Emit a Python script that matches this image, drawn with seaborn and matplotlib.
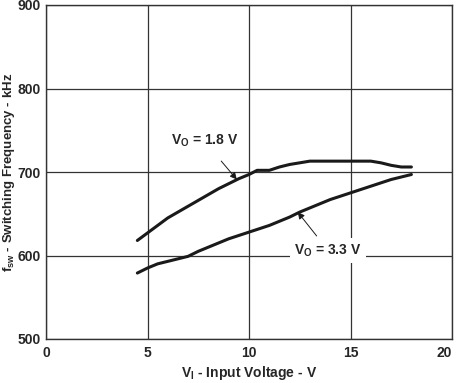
import numpy as np
import pandas as pd
import matplotlib
matplotlib.use('Agg')
import matplotlib.pyplot as plt
import seaborn as sns

# Данные
vin_18 = [4.5, 5.0, 5.5, 6.0, 6.5, 7.0, 7.5, 8.0, 8.5, 9.0, 9.5, 10.0, 10.4, 11.0, 11.5, 12.0, 12.5, 13.0, 14.0, 15.0, 16.0, 16.5, 17.0, 17.5, 18.0]
fsw_18 = [618, 627, 636, 645, 652, 659, 666, 673, 680, 686, 692, 697, 702, 702, 706, 709, 711, 713, 713, 713, 713, 711, 708, 706, 706]
vin_33 = [4.5, 5.0, 5.5, 6.0, 6.5, 7.0, 7.5, 8.0, 8.5, 9.0, 9.5, 10.0, 10.5, 11.0, 11.5, 12.0, 12.5, 13.0, 13.5, 14.0, 14.5, 15.0, 15.5, 16.0, 16.5, 17.0, 17.5, 18.0]
fsw_33 = [579, 585, 590, 593, 596, 599, 605, 610, 615, 620, 624, 628, 632, 636, 641, 646, 652, 657, 662, 667, 671, 675, 679, 683, 687, 691, 694, 697]

df = pd.concat([
    pd.DataFrame({'vin': vin_18, 'fsw': fsw_18, 'vo': '1.8 V'}),
    pd.DataFrame({'vin': vin_33, 'fsw': fsw_33, 'vo': '3.3 V'}),
])

sns.set_style('white')
plt.rcParams['font.family'] = ['Liberation Sans', 'DejaVu Sans']
plt.rcParams['font.weight'] = 'bold'

fig = plt.figure(figsize=(4.58, 3.83), dpi=100)
# оси: слева 46 px, справа 452 px, сверху 5 px, снизу 339 px
ax = fig.add_axes([46 / 458, 1 - 339 / 383, 406 / 458, 334 / 383])

sns.lineplot(data=df, x='vin', y='fsw', units='vo', estimator=None,
             color='#1a1a1a', linewidth=2.2, legend=False, ax=ax, zorder=3)

ax.set_xlim(0, 20)
ax.set_ylim(500, 900)
ax.set_xticks([0, 5, 10, 15, 20])
ax.set_yticks([500, 600, 700, 800, 900])
ax.grid(True, color='#333333', linewidth=0.9)
for s in ax.spines.values():
    s.set_color('#333333')
    s.set_linewidth(1.0)
ax.tick_params(axis='x', length=0, labelsize=10, pad=5)
ax.tick_params(axis='y', length=0, labelsize=10, pad=4)
for lbl in ax.get_xticklabels() + ax.get_yticklabels():
    lbl.set_fontweight('bold')
ax.get_xticklabels()[-1].set_horizontalalignment('right')

ax.set_xlabel(r'V$_\mathregular{I}$ - Input Voltage - V', fontsize=10, fontweight='bold')
ax.set_ylabel(r'f$_\mathregular{sw}$ - Switching Frequency - kHz', fontsize=9.5, fontweight='bold')
ax.xaxis.set_label_coords(0.5, -0.075)
ax.yaxis.set_label_coords(-29 / 406, 0.5)

ax.annotate(r'V$_\mathregular{O}$ = 1.8 V', xy=(9.4, 691), xytext=(7.8, 737),
            ha='center', va='center', fontsize=10, fontweight='bold',
            arrowprops=dict(arrowstyle='-|>', color='#1a1a1a', lw=0.7,
                            shrinkA=8, shrinkB=0, mutation_scale=10))
ax.annotate(r'V$_\mathregular{O}$ = 3.3 V', xy=(12.4, 652), xytext=(13.9, 606),
            ha='center', va='center', fontsize=10, fontweight='bold',
            bbox=dict(boxstyle='square,pad=0.3', fc='white', ec='none'),
            arrowprops=dict(arrowstyle='-|>', color='#1a1a1a', lw=0.7,
                            shrinkA=2, shrinkB=0, mutation_scale=10))

fig.savefig('out.png', dpi=100)
